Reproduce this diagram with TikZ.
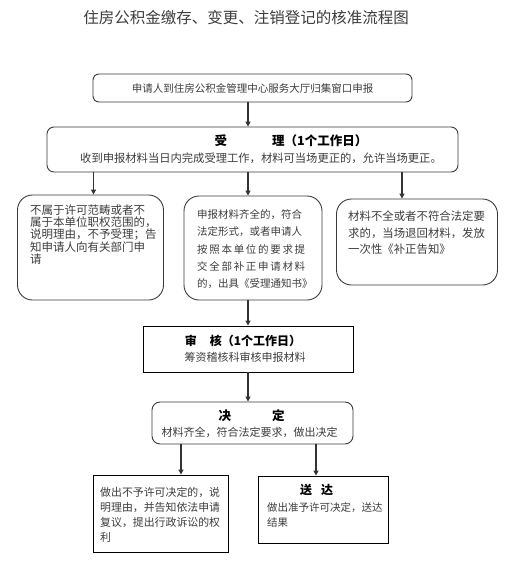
\documentclass[tikz,border=0pt]{standalone}
\usepackage{fontspec}
\setmainfont{Noto Sans CJK SC}
\usetikzlibrary{arrows.meta,positioning,calc}
\definecolor{Ink}{HTML}{3C3C3C}
\definecolor{Line}{HTML}{3A3A3A}
\definecolor{Muted}{HTML}{333333}
\tikzset{
  rbox/.style={draw=Line, line width=0.9pt, rounded corners=#1, inner sep=0pt},
  rbox/.default=7pt,
  sbox/.style={draw=black, line width=0.9pt, inner sep=0pt},
  txt/.style={text=Ink, align=left, inner sep=0pt, anchor=north west},
  head/.style={text=black, inner sep=0pt, font=\fontsize{12.5}{14}\selectfont\bfseries},
  arrow/.style={-{Triangle[length=5pt,width=5pt]}, line width=1.2pt, draw=Muted}
}
\newcommand{\spreadto}[2]{\makebox[#1][s]{#2}}

\begin{document}
\begin{tikzpicture}[x=1pt,y=-1pt]
  \useasboundingbox (0,0) rectangle (516,570);
  \node[text=Ink, inner sep=0pt, font=\fontsize{15.5}{18}\selectfont] (title) at (246,18) {住房公积金缴存、变更、注销登记的核准流程图};
  % columns of the connectors
  \coordinate (axis) at (248,0);
  \coordinate (colA) at (93.5,0);
  \coordinate (colC) at (402,0);
  \coordinate (colD) at (181,0);
  \coordinate (colE) at (316,0);
  % boxes
  \node[rbox=6pt, minimum width=319, minimum height=28, text=Ink, font=\fontsize{10.5}{12}\selectfont] (apply) at (252.5,88) {申请人到住房公积金管理中心服务大厅归集窗口申报};
  \node[rbox=7pt, minimum width=411, minimum height=45] (acc) at (252.5,149.5) {};
  \node[head] (acc-h) at (291,141) {受\hspace{45pt}理（1个工作日）};
  \node[text=Ink, inner sep=0pt, font=\fontsize{11.3}{13}\selectfont] (acc-t) at (261,158) {收到申报材料当日内完成受理工作，材料可当场更正的，允许当场更正。};
  \node[rbox=15pt, minimum width=146, minimum height=105] (noA) at (90.5,247.5) {};
  \node[txt, font=\fontsize{11.5}{12.3}\selectfont] (noA-t) at (30,204.5) {不属于许可范畴或者不\\属于本单位职权范围的，\\说明理由，不予受理；告\\知申请人向有关部门申\\请};
  \node[rbox=15pt, minimum width=138, minimum height=104] (okB) at (253,248) {};
  \node[txt, font=\fontsize{10.5}{17.3}\selectfont] (okB-t) at (197,209.5) {申报材料齐全的，符合\\法定形式，或者申请人\\\spreadto{108pt}{按 照 本 单 位 的 要 求 提}\\\spreadto{108pt}{交 全 部 补 正 申 请 材 料}\\的，出具《受理通知书》};
  \node[rbox=15pt, minimum width=161, minimum height=86] (fixC) at (417,242) {};
  \node[txt, font=\fontsize{11.4}{16.5}\selectfont] (fixC-t) at (348,211) {材料不全或者不符合法定要\\求的，当场退回材料，发放\\一次性《补正告知》};
  \node[sbox, minimum width=210, minimum height=46] (check) at (248,349) {};
  \node[head, font=\fontsize{12}{14}\selectfont\bfseries] (check-h) at (243,341) {审\hspace{13pt}核（1个工作日）};
  \node[text=Ink, inner sep=0pt, font=\fontsize{11}{13}\selectfont] (check-t) at (245,357) {筹资稽核科审核申报材料};
  \node[rbox=8pt, minimum width=201, minimum height=42] (decide) at (252.5,423) {};
  \node[head] (decide-h) at (251.5,416) {决\hspace{41pt}定};
  \node[text=Ink, inner sep=0pt, font=\fontsize{11}{13}\selectfont] (decide-t) at (249.5,432.5) {材料齐全，符合法定要求，做出决定};
  \node[sbox, minimum width=135, minimum height=77] (deny) at (160.5,513.5) {};
  \node[txt, font=\fontsize{10.9}{15}\selectfont] (deny-t) at (100,487.5) {做出不予许可决定的，说\\明理由，并告知依法申请\\复议，提出行政诉讼的权\\利};
  \node[sbox, minimum width=130, minimum height=67] (send) at (323,509.5) {};
  \node[head, font=\fontsize{12}{14}\selectfont\bfseries] (send-h) at (316.5,490) {送\hspace{9pt}达};
  \node[txt, font=\fontsize{10.5}{15}\selectfont] (send-t) at (267,502.5) {做出准予许可决定，送达\\结果};
  % connectors
  \draw[arrow] (apply.south -| axis) -- (acc.north -| axis);
  \draw[arrow] (acc.south -| colA) -- (noA.north -| colA);
  \draw[arrow] (acc.south -| axis) -- (okB.north -| axis);
  \draw[arrow] (acc.south -| colC) -- (fixC.north -| colC);
  \draw[arrow] (okB.south -| axis) -- (check.north -| axis);
  \draw[arrow] (check.south -| axis) -- (decide.north -| axis);
  \draw[arrow] (decide.south -| colD) -- (deny.north -| colD);
  \draw[arrow] (decide.south -| colE) -- (send.north -| colE);
\end{tikzpicture}
\end{document}
